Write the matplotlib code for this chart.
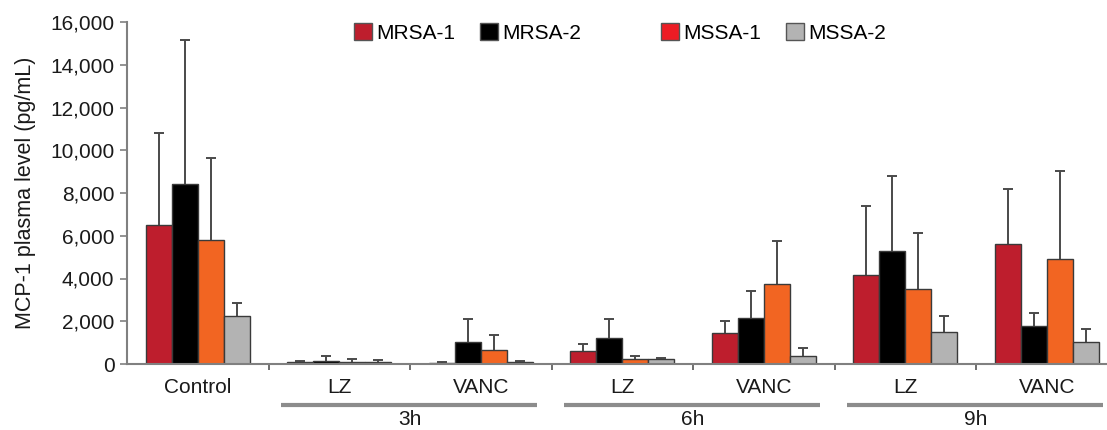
import matplotlib
matplotlib.use("Agg")
import matplotlib.pyplot as plt
import numpy as np
from matplotlib.patches import Patch
import matplotlib.transforms as mtransforms

plt.rcParams['font.family'] = ['Liberation Sans', 'DejaVu Sans']

# ---- data ----
categories = ["Control", "LZ", "VANC", "LZ", "VANC", "LZ", "VANC"]
time_labels = ["3h", "6h", "9h"]
series_names = ["MRSA-1", "MRSA-2", "MSSA-1", "MSSA-2"]

mrsa1 = [6500, 100, 70, 620, 1440, 4180, 5600]
mrsa1_err = [4330, 50, 30, 300, 590, 3210, 2600]
mrsa2 = [8430, 140, 1050, 1200, 2150, 5280, 1770]
mrsa2_err = [6740, 250, 1050, 900, 1280, 3510, 620]
mssa1 = [5800, 100, 670, 230, 3720, 3500, 4920]
mssa1_err = [3850, 150, 690, 140, 2040, 2620, 4120]
mssa2 = [2260, 100, 100, 250, 370, 1500, 1030]
mssa2_err = [580, 70, 50, 50, 380, 730, 620]

bar_colors = ["#BE1E2D", "#000000", "#F26522", "#B3B3B3"]
legend_colors = ["#BE1E2D", "#000000", "#ED1C24", "#B3B3B3"]

W, H = 1107, 430
fig = plt.figure(figsize=(W / 100, H / 100), dpi=100)
ax = fig.add_axes([127 / W, 1 - 364 / H, 990.5 / W, (364 - 22) / H])

x = np.arange(len(categories))
bw = 0.1837
values = [mrsa1, mrsa2, mssa1, mssa2]
errs = [mrsa1_err, mrsa2_err, mssa1_err, mssa2_err]
for i, (v, e, c) in enumerate(zip(values, errs, bar_colors)):
    off = (i - 1.5) * bw
    ax.bar(x + off, v, width=bw, color=c, edgecolor="#3a3a3a", linewidth=1.0, zorder=2)
    eb = ax.errorbar(x + off, v, yerr=[np.zeros(len(v)), e], fmt="none",
                     ecolor="#4a4a4a", elinewidth=1.4, capsize=3.6, capthick=1.4, zorder=1)
    caps = eb.lines[1]
    if len(caps) == 2:
        caps[0].set_visible(False)

ax.set_xlim(-0.5, 6.5)
ax.set_ylim(0, 16000)
ax.set_yticks(np.arange(0, 16001, 2000))
ax.set_yticklabels([f"{t:,}" for t in range(0, 16001, 2000)])
ax.set_xticks(x)
ax.set_xticklabels(categories)
ax.set_xticks(np.arange(0.5, 6, 1), minor=True)
ax.tick_params(axis="x", which="major", length=0, pad=10, labelsize=15, colors="#1a1a1a")
ax.tick_params(axis="x", which="minor", length=4, width=1.2, color="#555555")
ax.tick_params(axis="y", length=5, width=1.2, color="#808080", labelsize=15, labelcolor="#1a1a1a", pad=4)

for s in ["top", "right"]:
    ax.spines[s].set_visible(False)
for s in ["left", "bottom"]:
    ax.spines[s].set_color("#808080")
    ax.spines[s].set_linewidth(1.5)

ax.set_ylabel("MCP-1 plasma level (pg/mL)", fontsize=15.5, color="#1a1a1a", labelpad=10)

# group labels with lines
trans = mtransforms.blended_transform_factory(ax.transData, ax.transAxes)
spans = [(1, 2), (3, 4), (5, 6)]
for (a, b), lab in zip(spans, time_labels):
    ax.plot([a - 0.41, b + 0.4], [-0.12, -0.12], transform=trans, color="#8c8c8c",
            linewidth=3, clip_on=False, solid_capstyle="butt")
    ax.text((a + b) / 2, -0.162, lab, transform=trans, ha="center", va="center",
            fontsize=15, color="#1a1a1a")

# legends
h1 = [Patch(facecolor=legend_colors[i], edgecolor="#555555", label=series_names[i]) for i in (0, 1)]
h2 = [Patch(facecolor=legend_colors[i], edgecolor="#555555", label=series_names[i]) for i in (2, 3)]
common = dict(ncol=2, frameon=False, fontsize=15, handlelength=0.87, handleheight=0.87,
              handletextpad=0.2, columnspacing=1.2, borderpad=0, borderaxespad=0,
              loc="center left", bbox_transform=fig.transFigure)
leg1 = fig.legend(handles=h1, bbox_to_anchor=(354 / W, 1 - 33 / H), **common)
leg2 = fig.legend(handles=h2, bbox_to_anchor=(661 / W, 1 - 33 / H), **common)

fig.savefig("out.png", dpi=100)
